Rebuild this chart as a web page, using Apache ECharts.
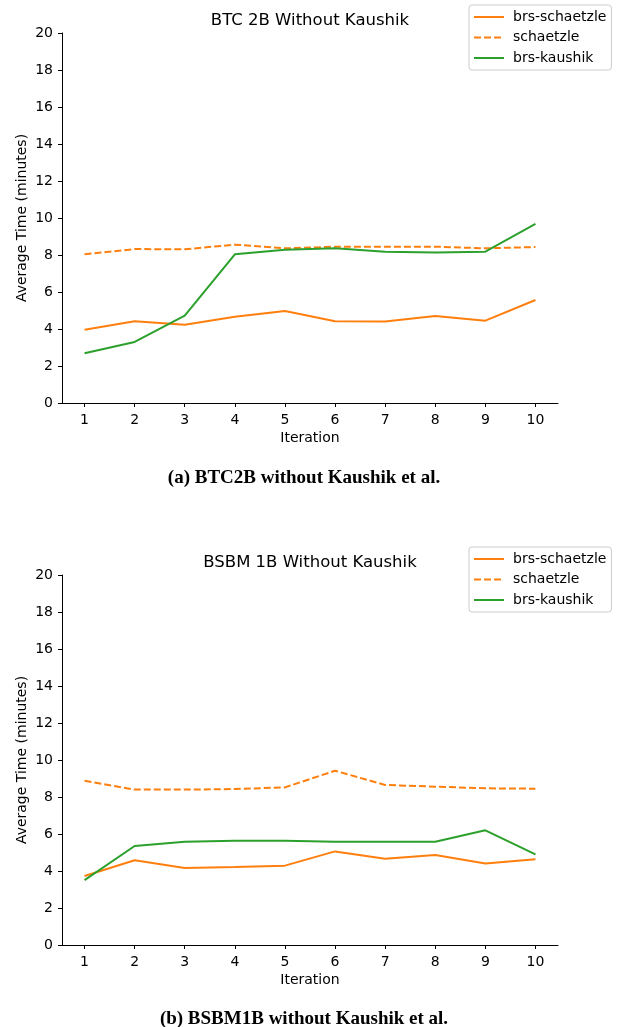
<!DOCTYPE html>
<html>
<head>
<meta charset="utf-8">
<script src="https://cdn.jsdelivr.net/npm/echarts@6/dist/echarts.min.js"></script>
<style>html,body{margin:0;padding:0;background:#fff;}#c{width:617px;height:1027px;}</style>
</head>
<body>
<div id="c"></div>
<script>
const iterations = [1, 2, 3, 4, 5, 6, 7, 8, 9, 10];
const yTicks = [0, 2, 4, 6, 8, 10, 12, 14, 16, 18, 20];
const seriesNames = ['brs-schaetzle', 'schaetzle', 'brs-kaushik'];

// (a) BTC 2B
const btcBrsSchaetzle = [3.96, 4.42, 4.23, 4.66, 4.97, 4.42, 4.40, 4.70, 4.45, 5.57];
const btcSchaetzle    = [8.04, 8.32, 8.31, 8.56, 8.36, 8.45, 8.45, 8.45, 8.36, 8.43];
const btcBrsKaushik   = [2.69, 3.30, 4.72, 8.04, 8.29, 8.36, 8.18, 8.14, 8.18, 9.68];

// (b) BSBM 1B
const bsbmBrsSchaetzle = [3.73, 4.58, 4.16, 4.22, 4.29, 5.06, 4.66, 4.86, 4.40, 4.63];
const bsbmSchaetzle    = [8.88, 8.40, 8.40, 8.43, 8.52, 9.42, 8.65, 8.56, 8.47, 8.45];
const bsbmBrsKaushik   = [3.51, 5.35, 5.58, 5.64, 5.64, 5.58, 5.58, 5.58, 6.20, 4.90];

const titles = ['BTC 2B Without Kaushik', 'BSBM 1B Without Kaushik'];
const captions = ['(a) BTC2B without Kaushik et al.', '(b) BSBM1B without Kaushik et al.'];

const ORANGE = '#ff7f0e', GREEN = '#2ca02c';
const FONT = 'DejaVu Sans';

function pairs(vals) { return iterations.map((x, i) => [x, vals[i]]); }

const grids = [
  { left: 62, width: 496, top: 33, height: 370 },
  { left: 62, width: 496, top: 575, height: 370 }
];

function xAxis(gi) {
  return {
    type: 'value', gridIndex: gi, min: 0.55, max: 10.45,
    name: 'Iteration', nameLocation: 'middle', nameGap: 28, nameMoveOverlap: false,
    nameTextStyle: { fontFamily: FONT, fontSize: 14, color: '#000' },
    axisLine: { show: true, lineStyle: { color: '#000', width: 1 } },
    axisTick: { show: true, inside: false, length: 4, customValues: iterations, lineStyle: { color: '#000' } },
    axisLabel: { customValues: iterations, fontFamily: FONT, fontSize: 14, color: '#000', margin: 10 },
    splitLine: { show: false }
  };
}
function yAxis(gi) {
  return {
    type: 'value', gridIndex: gi, min: 0, max: 20, interval: 2,
    name: 'Average Time (minutes)', nameLocation: 'middle', nameGap: 33, nameMoveOverlap: false,
    nameTextStyle: { fontFamily: FONT, fontSize: 14, color: '#000' },
    axisLine: { show: true, lineStyle: { color: '#000', width: 1 } },
    axisTick: { show: true, inside: false, length: 4, lineStyle: { color: '#000' } },
    axisLabel: { fontFamily: FONT, fontSize: 14, color: '#000', margin: 9, customValues: yTicks },
    splitLine: { show: false }
  };
}

function mkSeries(gi, vals, name, color, dashed) {
  return {
    type: 'line', name: name, xAxisIndex: gi, yAxisIndex: gi,
    data: pairs(vals), symbol: 'none', smooth: false, animation: false,
    lineStyle: { color: color, width: 2, type: dashed ? [7, 3] : 'solid' },
    itemStyle: { color: color }
  };
}

function legend(top) {
  return {
    orient: 'vertical', left: 469, top: top,
    data: seriesNames, itemWidth: 30, itemHeight: 10, itemGap: 6.5,
    itemStyle: { color: 'rgba(0,0,0,0)', borderWidth: 0 },
    backgroundColor: '#fff', borderColor: '#ccc', borderWidth: 1, borderRadius: 3,
    padding: [5, 5, 5, 4],
    textStyle: { fontFamily: FONT, fontSize: 14, color: '#000', padding: [0, 0, 0, 4] }
  };
}

const chart = echarts.init(document.getElementById('c'), null, { renderer: 'canvas' });
chart.setOption({
  animation: false,
  backgroundColor: '#fff',
  title: [
    { text: titles[0], left: 305, top: 7, textAlign: 'center', textStyle: { fontFamily: FONT, fontSize: 16.5, fontWeight: 'normal', color: '#000' } },
    { text: titles[1], left: 305, top: 549, textAlign: 'center', textStyle: { fontFamily: FONT, fontSize: 16.5, fontWeight: 'normal', color: '#000' } },
    { text: captions[0], left: 299, top: 464, textAlign: 'center', textStyle: { fontFamily: 'Liberation Serif', fontSize: 19, fontWeight: 'bold', color: '#000' } },
    { text: captions[1], left: 299, top: 1005, textAlign: 'center', textStyle: { fontFamily: 'Liberation Serif', fontSize: 19, fontWeight: 'bold', color: '#000' } }
  ],
  legend: [legend(5), legend(547)],
  grid: grids,
  xAxis: [xAxis(0), xAxis(1)],
  yAxis: [yAxis(0), yAxis(1)],
  series: [
    mkSeries(0, btcBrsSchaetzle, seriesNames[0], ORANGE, false),
    mkSeries(0, btcSchaetzle, seriesNames[1], ORANGE, true),
    mkSeries(0, btcBrsKaushik, seriesNames[2], GREEN, false),
    mkSeries(1, bsbmBrsSchaetzle, seriesNames[0], ORANGE, false),
    mkSeries(1, bsbmSchaetzle, seriesNames[1], ORANGE, true),
    mkSeries(1, bsbmBrsKaushik, seriesNames[2], GREEN, false)
  ]
});
</script>
</body>
</html>
